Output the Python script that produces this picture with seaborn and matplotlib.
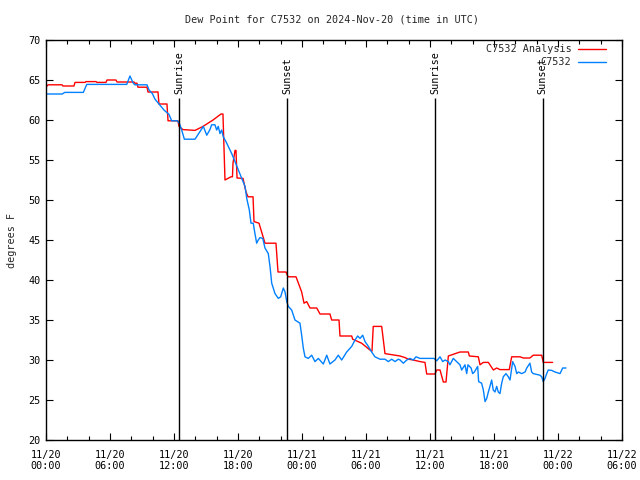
import numpy as np
import pandas as pd
import matplotlib
matplotlib.use("Agg")
import matplotlib.pyplot as plt
import matplotlib.dates as mdates
import seaborn as sns

# ---------------- data (hours after 2024-11-20 00:00 UTC, dew point degF) ----------------
analysis_hours = [0.00, 0.19, 1.50, 1.59, 2.62, 2.72, 3.66, 3.75, 4.69, 4.78, 5.62, 5.72, 6.56, 6.66,
                  8.25, 8.34, 8.53, 8.62, 9.47, 9.56, 10.50, 10.59, 11.34, 11.44, 12.37, 12.47, 12.84,
                  13.97, 14.72, 15.66, 16.41, 16.59, 16.78, 17.34, 17.48, 17.53, 17.72, 17.81, 17.91,
                  18.47, 18.75, 18.94, 19.41, 19.50, 19.97, 20.53, 21.56, 21.75, 22.50, 22.69, 23.44,
                  23.97, 24.19, 24.44, 24.75, 25.38, 25.69, 26.62, 26.78, 27.47, 27.56, 28.66, 28.75,
                  29.59, 30.37, 30.56, 30.68, 31.47, 31.78, 32.72, 33.19, 33.66, 33.97, 34.43, 35.06,
                  35.53, 35.69, 36.47, 36.63, 36.94, 37.25, 37.50, 37.72, 38.81, 39.59, 39.69, 40.53,
                  40.69, 41.00, 41.47, 41.94, 42.25, 42.56, 43.43, 43.66, 44.44, 44.75, 45.37, 45.68,
                  46.47, 46.62, 47.50]
analysis_dewpt = [64.1, 64.4, 64.4, 64.25, 64.25, 64.7, 64.7, 64.8, 64.8, 64.7, 64.7, 65.0, 65.0, 64.75,
                  64.75, 64.6, 64.6, 64.1, 64.1, 63.5, 63.5, 62.0, 62.0, 59.9, 59.9, 59.2, 58.8,
                  58.7, 59.2, 60.0, 60.75, 60.75, 52.5, 52.9, 52.9, 54.6, 56.2, 56.2, 52.75,
                  52.7, 51.0, 50.4, 50.4, 47.3, 47.1, 44.6, 44.6, 41.0, 41.0, 40.4, 40.4,
                  38.5, 37.1, 37.3, 36.5, 36.5, 35.75, 35.75, 35.0, 35.0, 33.0, 33.0, 32.6,
                  32.1, 31.25, 31.1, 34.2, 34.2, 30.8, 30.6, 30.5, 30.3, 30.1, 30.0, 29.8,
                  29.7, 28.25, 28.25, 28.75, 28.75, 27.25, 27.25, 30.5, 31.0, 31.0, 30.5, 30.4,
                  29.4, 29.7, 29.7, 28.75, 29.0, 28.8, 28.8, 30.4, 30.4, 30.25, 30.25, 30.6,
                  30.6, 29.7, 29.7]

obs_hours = [0.00, 1.53, 1.75, 3.50, 3.82, 7.57, 7.87, 8.18, 8.34, 9.47, 9.66, 9.97, 10.22, 10.59,
             11.06, 11.53, 11.78, 12.31, 12.50, 12.72, 12.97, 13.97, 14.53, 14.75, 15.07, 15.37,
             15.53, 15.84, 16.00, 16.15, 16.31, 16.47, 16.62, 16.87, 17.09, 17.41, 17.72, 18.03,
             18.35, 18.66, 18.82, 19.06, 19.22, 19.43, 19.59, 19.75, 19.90, 20.06, 20.32, 20.53,
             20.84, 21.00, 21.16, 21.47, 21.78, 22.00, 22.25, 22.41, 22.57, 22.72, 23.03, 23.34,
             23.81, 23.97, 24.12, 24.28, 24.59, 24.91, 25.22, 25.53, 26.00, 26.32, 26.62, 27.09,
             27.40, 27.72, 28.19, 28.66, 28.97, 29.22, 29.44, 29.69, 29.91, 30.22, 30.53, 30.84,
             31.31, 31.78, 32.09, 32.41, 32.72, 33.03, 33.19, 33.50, 33.82, 34.12, 34.43, 34.69,
             35.06, 36.37, 36.63, 36.94, 37.19, 37.41, 37.72, 37.87, 38.18, 38.50, 38.81, 38.97,
             39.28, 39.44, 39.56, 39.85, 40.00, 40.16, 40.47, 40.56, 40.84, 41.00, 41.16, 41.32,
             41.47, 41.62, 41.78, 41.93, 42.09, 42.25, 42.40, 42.56, 42.72, 42.87, 43.12, 43.34,
             43.50, 43.66, 43.75, 43.97, 44.13, 44.28, 44.60, 44.91, 45.07, 45.37, 45.53, 45.68,
             46.31, 46.47, 46.62, 46.78, 46.94, 47.09, 47.41, 47.72, 48.19, 48.44, 48.75]
obs_dewpt = [63.25, 63.25, 63.45, 63.45, 64.45, 64.45, 65.5, 64.6, 64.4, 64.4, 63.75, 63.3, 62.6, 62.0,
             61.25, 60.7, 59.9, 59.9, 59.6, 58.75, 57.6, 57.6, 58.75, 59.2, 58.1, 58.8,
             59.4, 59.4, 58.75, 59.2, 58.3, 58.75, 57.9, 57.3, 56.7, 55.8, 54.8, 53.75,
             52.7, 51.7, 50.2, 48.75, 47.1, 47.1, 45.8, 44.6, 45.0, 45.3, 45.2, 44.0,
             43.3, 41.7, 39.6, 38.3, 37.7, 37.9, 39.0, 38.5, 37.3, 36.7, 36.25, 35.0,
             34.6, 33.1, 31.5, 30.4, 30.2, 30.6, 29.8, 30.2, 29.5, 30.6, 29.5, 30.0,
             30.6, 30.0, 31.0, 31.7, 32.5, 33.0, 32.7, 33.1, 32.3, 31.7, 31.0, 30.4,
             30.1, 30.1, 29.8, 30.1, 29.8, 30.1, 30.0, 29.6, 30.0, 30.2, 30.0, 30.4,
             30.2, 30.2, 29.9, 30.4, 29.8, 30.0, 29.8, 29.4, 30.2, 29.8, 29.4, 28.75,
             29.4, 28.3, 29.4, 29.0, 28.3, 28.5, 29.2, 27.3, 27.1, 26.25, 24.8, 25.2,
             26.0, 26.7, 27.5, 26.25, 26.0, 26.7, 26.0, 25.8, 27.1, 27.9, 28.3, 27.9,
             27.5, 29.0, 29.8, 29.2, 28.3, 28.5, 28.3, 28.5, 29.0, 29.6, 28.5, 28.3,
             28.1, 27.9, 27.3, 27.7, 28.3, 28.75, 28.7, 28.5, 28.3, 29.0, 29.0]

series_names = ["C7532 Analysis", "C7532"]
sun_events = ["Sunrise", "Sunset", "Sunrise", "Sunset"]
sun_times = ["2024-11-20 12:30", "2024-11-20 22:38", "2024-11-21 12:28", "2024-11-21 22:34"]

title = "Dew Point for C7532 on 2024-Nov-20 (time in UTC)"
ylabel = "degrees F"

# ---------------- build table ----------------
t0 = pd.Timestamp("2024-11-20 00:00")
df = pd.concat([
    pd.DataFrame({"time": t0 + pd.to_timedelta(analysis_hours, unit="h"),
                  "dewpt": analysis_dewpt, "series": series_names[0]}),
    pd.DataFrame({"time": t0 + pd.to_timedelta(obs_hours, unit="h"),
                  "dewpt": obs_dewpt, "series": series_names[1]}),
], ignore_index=True)

sns.set_style("ticks")
plt.rcParams["font.family"] = ["DejaVu Sans Mono"]
FS = 7.3
plt.rcParams["font.size"] = FS

fig = plt.figure(figsize=(6.4, 4.8), dpi=100)
ax = fig.add_axes([46/640, 40/480, 576/640, 400/480])

palette = {series_names[0]: "#ff0000", series_names[1]: "#0080ff"}
sns.lineplot(data=df, x="time", y="dewpt", hue="series", palette=palette,
             estimator=None, sort=False, linewidth=1.0, ax=ax, legend=True)

# sunrise / sunset markers
for name, ts in zip(sun_events, sun_times):
    t = pd.Timestamp(ts)
    ax.vlines(t, 20, 62.75, color="black", linewidth=1.0)
    ax.text(t, 63.3, name, rotation=90, ha="center", va="bottom",
            fontsize=FS, color="black")

ax.set_xlim(pd.Timestamp("2024-11-20 00:00"), pd.Timestamp("2024-11-22 06:00"))
ax.set_ylim(20, 70)
ax.set_yticks(np.arange(20, 71, 5))
ax.xaxis.set_major_locator(mdates.HourLocator(byhour=[0, 6, 12, 18]))
ax.xaxis.set_minor_locator(mdates.HourLocator(byhour=range(0, 24, 2)))
ax.xaxis.set_major_formatter(mdates.DateFormatter("%m/%d\n%H:%M"))
ax.tick_params(axis="both", which="both", direction="in", top=True, right=True,
               colors="black", labelsize=FS, width=0.8)
ax.tick_params(axis="both", which="major", length=5)
ax.tick_params(axis="x", which="major", pad=7)
ax.tick_params(axis="y", which="major", pad=4)
ax.tick_params(axis="both", which="minor", length=3)
ax.set_xlabel("")
ax.set_ylabel("")
for s in ax.spines.values():
    s.set_visible(True)
    s.set_color("black")
    s.set_linewidth(1.0)

fig.text(332/640, 1 - 20/480, title, ha="center", va="center", fontsize=FS)
fig.text(12/640, 0.5, ylabel, rotation=90, ha="center", va="center", fontsize=FS)

leg = ax.legend(loc="upper right", frameon=False, markerfirst=False,
                bbox_to_anchor=(1.0 - 10/576, 1.0 + 2/400), borderaxespad=0.2,
                handlelength=2.8, handletextpad=0.6, labelspacing=0.3,
                fontsize=FS)
for txt in leg.get_texts():
    txt.set_ha("right")
leg._legend_box.align = "right"

fig.savefig("out.png", dpi=100)
